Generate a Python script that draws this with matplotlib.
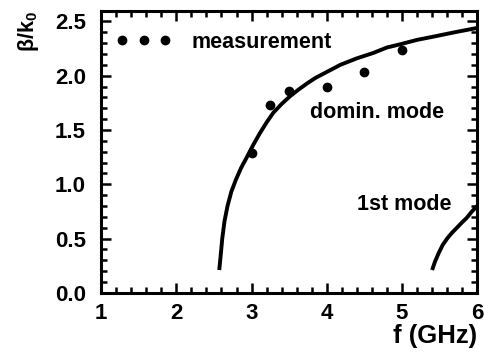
import numpy as np
import matplotlib
matplotlib.use("Agg")
import matplotlib.pyplot as plt

# ------------------------------------------------------------
# Data
# ------------------------------------------------------------
meas_f    = [3.0, 3.25, 3.5, 4.0, 4.5, 5.0]
meas_beta = [1.285, 1.73, 1.86, 1.90, 2.03, 2.24]

# dominant mode
dom_f    = [2.57, 2.59, 2.61, 2.64, 2.68, 2.73, 2.79, 2.86, 2.93, 3.02, 3.11,
            3.20, 3.29, 3.40, 3.51, 3.62, 3.74, 3.85, 3.96, 4.18, 4.40, 4.62,
            4.80, 4.98, 5.20, 5.42, 5.70, 6.00]
dom_beta = [0.21, 0.35, 0.50, 0.66, 0.80, 0.93, 1.04, 1.15, 1.24, 1.36, 1.47,
            1.57, 1.66, 1.74, 1.81, 1.87, 1.93, 1.98, 2.02, 2.10, 2.16, 2.21,
            2.26, 2.29, 2.33, 2.36, 2.40, 2.44]

# first higher-order mode
m1_f    = [5.40, 5.44, 5.49, 5.54, 5.60, 5.66, 5.73, 5.80, 5.86, 5.93, 6.00]
m1_beta = [0.21, 0.29, 0.37, 0.44, 0.50, 0.55, 0.60, 0.65, 0.69, 0.75, 0.80]

plt.rcParams["font.family"] = ["Liberation Sans", "DejaVu Sans"]
plt.rcParams["font.weight"] = "bold"
plt.rcParams["mathtext.fontset"] = "custom"
plt.rcParams["mathtext.rm"] = "Liberation Sans:bold"
plt.rcParams["mathtext.default"] = "rm"

FS = 15.5

fig = plt.figure(figsize=(4.84, 3.58), dpi=100)
ax = fig.add_axes([0.209, 0.182, 0.777, 0.787])

for xs, ys in [(dom_f, dom_beta), (m1_f, m1_beta)]:
    ax.plot(xs, ys, color="black", lw=2.8, solid_capstyle="butt",
            solid_joinstyle="round")
ax.plot(meas_f, meas_beta, "o", ls="none", color="black", ms=6, label="measurement")

ax.text(3.78, 1.66, "domin. mode", fontsize=FS, fontweight="bold", va="center", ha="left")
ax.text(4.40, 0.81, "1st mode", fontsize=FS, fontweight="bold", va="center", ha="left")

ax.legend(loc="center left", bbox_to_anchor=(0.039, 0.889), frameon=False,
          numpoints=3, handlelength=2.6, handletextpad=0.9, borderpad=0,
          borderaxespad=0, prop={"size": FS, "weight": "bold"})

ax.set_xlim(1, 6)
ax.set_ylim(0, 2.595)
ax.set_xticks([1, 2, 3, 4, 5, 6])
ax.set_yticks([0.0, 0.5, 1.0, 1.5, 2.0, 2.5])
ax.set_yticklabels(["0.0", "0.5", "1.0", "1.5", "2.0", "2.5"])
ax.set_xticks(np.arange(1, 6.01, 0.2), minor=True)
ax.set_yticks(np.arange(0, 2.59, 0.1), minor=True)

ax.tick_params(which="both", direction="in", top=True, right=True, width=1.8)
ax.tick_params(which="major", length=7, labelsize=16, pad=7)
ax.tick_params(axis="y", which="major", pad=11)
ax.tick_params(which="minor", length=4.5)
for s in ax.spines.values():
    s.set_linewidth(2.2)

ax.set_xlabel("f (GHz)", fontsize=18.5, fontweight="bold", loc="right", labelpad=0)
ax.set_ylabel(r"β/k$_0$", fontsize=15.5, fontweight="bold", loc="top", labelpad=10)

fig.savefig("out.png", dpi=100)
